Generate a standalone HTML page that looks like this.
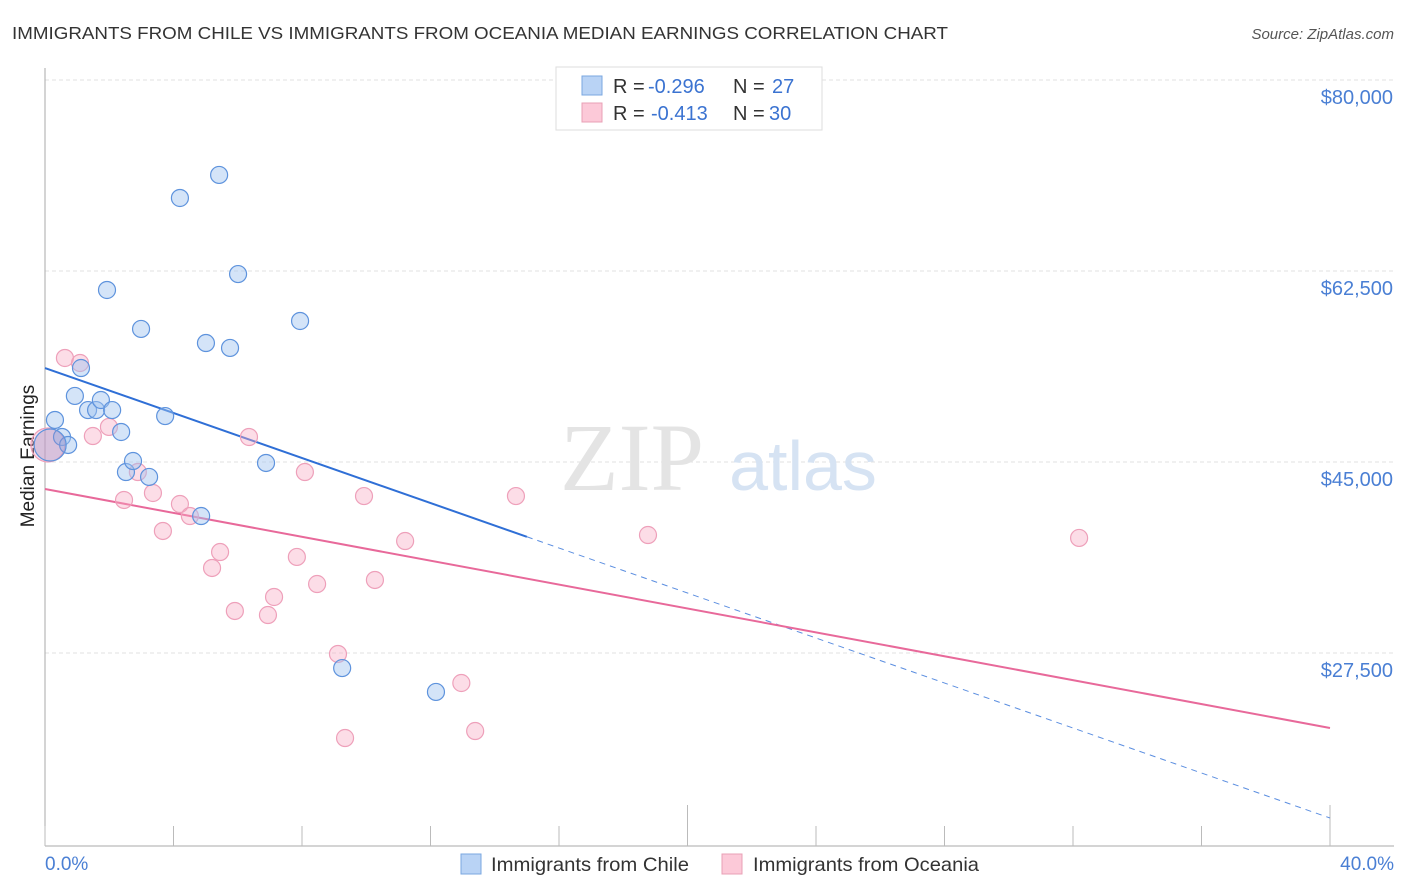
<!DOCTYPE html>
<html><head><meta charset="utf-8"><style>
body{margin:0;background:#fff;font-family:"Liberation Sans",sans-serif;}
svg{display:block}
</style></head><body>
<svg id="chart" width="1406" height="892" xmlns="http://www.w3.org/2000/svg">
<text x="12" y="39" font-size="17.5" fill="#333" textLength="936" lengthAdjust="spacingAndGlyphs">IMMIGRANTS FROM CHILE VS IMMIGRANTS FROM OCEANIA MEDIAN EARNINGS CORRELATION CHART</text>
<text x="1394" y="39" font-size="15" fill="#555" font-style="italic" text-anchor="end">Source: ZipAtlas.com</text>
<text x="0" y="0" transform="translate(34,456) rotate(-90)" font-size="19" fill="#222" text-anchor="middle">Median Earnings</text>
<g id="grid"></g>
<g><text x="632" y="490" font-size="96" font-family="Liberation Serif,serif" fill="#e4e4e4" text-anchor="middle">ZIP</text><text x="803" y="490" font-size="70" fill="#d6e3f3" text-anchor="middle">atlas</text></g>
<line x1="45" y1="68" x2="45" y2="846" stroke="#aaa"/>
<line x1="45" y1="846" x2="1394" y2="846" stroke="#aaa"/>
<g id="ticks"></g>
<g id="lines"></g>
<g id="pts"></g>
<text x="45" y="870" font-size="19" fill="#4a7fd4">0.0%</text>
<text x="1394" y="870" font-size="19" fill="#4a7fd4" text-anchor="end">40.0%</text>
<g>
<rect x="461" y="854" width="20" height="20" fill="#b9d3f5" stroke="#7aa7e0"/>
<text x="491" y="871" font-size="19.5" fill="#333" textLength="198" lengthAdjust="spacingAndGlyphs">Immigrants from Chile</text>
<rect x="722" y="854" width="20" height="20" fill="#fcc9d8" stroke="#e8a0b6"/>
<text x="753" y="871" font-size="19.5" fill="#333" textLength="226" lengthAdjust="spacingAndGlyphs">Immigrants from Oceania</text>
</g>
<g>
<rect x="556" y="67" width="266" height="63" fill="#fff" stroke="#ddd"/>
<rect x="582" y="76" width="20" height="19" fill="#b9d3f5" stroke="#7aa7e0"/>
<rect x="582" y="103" width="20" height="19" fill="#fcc9d8" stroke="#e8a0b6"/>
<text x="613" y="93" font-size="20" fill="#333">R = <tspan x="648" fill="#3b73d1">-0.296</tspan><tspan x="733">N = </tspan><tspan x="772" fill="#3b73d1">27</tspan></text>
<text x="613" y="120" font-size="20" fill="#333">R = <tspan x="651" fill="#3b73d1">-0.413</tspan><tspan x="733">N = </tspan><tspan x="769" fill="#3b73d1">30</tspan></text>
</g>
</svg>
<script>
const yTicks=[80000,62500,45000,27500];
const yTickLabels=["$80,000","$62,500","$45,000","$27,500"];
const xTicks=[0,4,8,12,16,20,24,28,32,36,40];
const chileX=[0.31,0.53,0.72,0.93,1.34,1.59,1.74,2.09,2.37,1.12,2.52,2.74,3.24,2.99,3.74,1.93,4.20,5.42,5.01,5.76,6.01,4.86,6.88,7.94,9.25,12.17,0.16];
const chileY=[48850,47290,46560,51050,49760,49760,50680,49760,47750,53610,44080,45090,43630,57190,49210,60760,69190,71300,55900,55450,62220,40050,44910,57920,26120,23930,46560];
const oceX=[0.62,1.09,1.49,1.99,2.46,2.89,3.36,3.67,4.20,4.51,5.20,5.45,5.91,6.35,6.94,7.13,7.84,8.09,8.47,9.12,9.34,9.93,10.27,11.21,12.96,13.39,14.66,18.77,32.19,0.09];
const oceY=[54530,54070,47380,48210,41520,44080,42160,38680,41150,40050,35290,36750,31350,47290,30980,32630,36300,44080,33820,27410,19710,41880,34190,37760,24750,20350,41880,38310,38040,46560];
const chileTrend=[53610,12380];
const oceTrend=[42525,20630];
const chileSolidEnd=15.0;
const NS="http://www.w3.org/2000/svg";
const xs=v=>45+v*32.125;
const ys=v=>80-(v-80000)*10.914/1000;
function mk(t,a,p){const e=document.createElementNS(NS,t);for(const k in a)e.setAttribute(k,a[k]);p.appendChild(e);return e;}
const grid=document.getElementById('grid');
yTicks.forEach((v,i)=>{
 const l=mk('line',{x1:45,x2:1394,y1:ys(v),y2:ys(v),stroke:'#e2e2e2','stroke-dasharray':'4,3'},grid);
 
 
 const t=mk('text',{x:1393,y:ys(v)+24,'font-size':20,fill:'#4a7fd4','text-anchor':'end'},grid);
 t.textContent=yTickLabels[i];
 
 
});
const tk=document.getElementById('ticks');
xTicks.forEach((v,i)=>{
 const major=(i===5||i===10);
 const l=mk('line',{x1:xs(v),x2:xs(v),y1:major?805:826,y2:846,stroke:'#bbb'},tk);
 
 
});
const ln=document.getElementById('lines');
const slope=(chileTrend[1]-chileTrend[0])/40;
const cEnd=chileTrend[0]+slope*chileSolidEnd;
let a=mk('line',{x1:xs(0),y1:ys(chileTrend[0]),x2:xs(chileSolidEnd),y2:ys(cEnd),stroke:'#2f6fd6','stroke-width':2},ln);


a=mk('line',{x1:xs(chileSolidEnd),y1:ys(cEnd),x2:xs(40),y2:ys(chileTrend[1]),stroke:'#5b8ee0','stroke-width':1,'stroke-dasharray':'6,5'},ln);


a=mk('line',{x1:xs(0),y1:ys(oceTrend[0]),x2:xs(40),y2:ys(oceTrend[1]),stroke:'#e8699a','stroke-width':2},ln);


const pts=document.getElementById('pts');
oceX.forEach((x,i)=>{
 const big=i===oceX.length-1;
 const c=mk('circle',{cx:xs(x),cy:ys(oceY[i]),r:big?17:8.5,fill:'rgba(248,170,195,0.4)',stroke:'#eea0ba','stroke-width':1.2},pts);
 
 
});
chileX.forEach((x,i)=>{
 const big=i===chileX.length-1;
 const c=mk('circle',{cx:xs(x),cy:ys(chileY[i]),r:big?16:8.5,fill:big?'rgba(150,140,200,0.35)':'rgba(160,195,240,0.45)',stroke:'#5e93dd','stroke-width':1.2},pts);
 
 
});
</script>
</body></html>
